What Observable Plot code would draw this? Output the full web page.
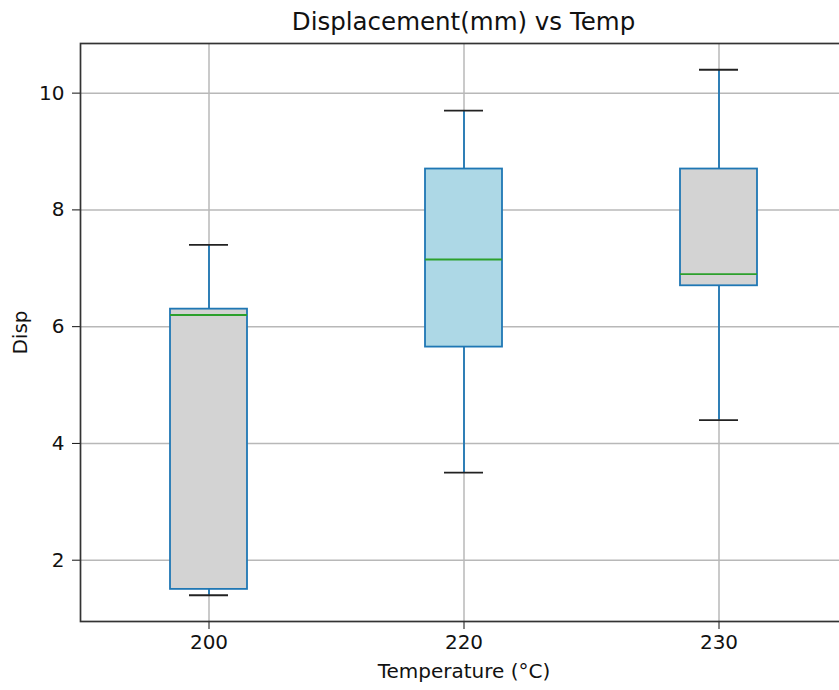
<!DOCTYPE html>
<html>
<head>
<meta charset="utf-8">
<script src="https://cdn.jsdelivr.net/npm/d3@7"></script>
<script src="https://cdn.jsdelivr.net/npm/@observablehq/plot@0.6"></script>
<style>
  html, body { margin: 0; padding: 0; background: #fff; overflow: hidden; }
  #title {
    width: 767px; padding-left: 80px; padding-top: 8px; height: 28px;
    font-family: "DejaVu Sans", sans-serif; font-size: 24.5px; color: #111;
    text-align: center; line-height: 28px;
  }
  #chart svg { max-width: none !important; }
</style>
</head>
<body>
<div id="title">Displacement(mm) vs Temp</div>
<div id="chart"></div>
<script>
// Box-plot summary per temperature group
const temps   = ["200", "220", "230"];
const mins    = [1.4, 3.5, 4.4];
const q1s     = [1.5, 5.65, 6.7];
const medians = [6.2, 7.15, 6.9];
const q3s     = [6.3, 8.7, 8.7];
const maxs    = [7.4, 9.7, 10.4];
const fills   = ["lightgray", "lightblue", "lightgray"];
const yTicks  = [2, 4, 6, 8, 10];

const rows = temps.map((t, i) => ({
  temp: t, min: mins[i], q1: q1s[i], median: medians[i], q3: q3s[i], max: maxs[i], fill: fills[i]
}));

// matplotlib-style 5% padding on the data range
const lo = d3.min(mins), hi = d3.max(maxs), pad = (hi - lo) * 0.05;

const blue = "#1f77b4";

const chart = Plot.plot({
  width: 847,
  height: 654,
  marginTop: 7,
  marginBottom: 69,
  marginLeft: 80,
  marginRight: 0,
  style: { fontFamily: "DejaVu Sans, sans-serif", fontSize: "20px", color: "#111", background: "#fff" },
  x: { type: "band", domain: temps, paddingInner: 0.7, paddingOuter: 0.35 },
  y: { domain: [lo - pad, hi + pad] },
  marks: [
    Plot.gridX({ stroke: "#b8b8b8", strokeOpacity: 1, strokeWidth: 1.5 }),
    Plot.gridY(yTicks, { stroke: "#b8b8b8", strokeOpacity: 1, strokeWidth: 1.5 }),
    // whiskers
    Plot.ruleX(rows, { x: "temp", y1: "q3", y2: "max", stroke: blue, strokeWidth: 1.8 }),
    Plot.ruleX(rows, { x: "temp", y1: "min", y2: "q1", stroke: blue, strokeWidth: 1.8 }),
    // boxes
    Plot.barY(rows, { x: "temp", y1: "q1", y2: "q3", fill: d => d.fill, stroke: blue, strokeWidth: 1.8 }),
    // caps
    Plot.tickY(rows, { x: "temp", y: "max", stroke: "#222", strokeWidth: 1.9, insetLeft: 19, insetRight: 19 }),
    Plot.tickY(rows, { x: "temp", y: "min", stroke: "#222", strokeWidth: 1.9, insetLeft: 19, insetRight: 19 }),
    // medians
    Plot.tickY(rows, { x: "temp", y: "median", stroke: "#2ca02c", strokeWidth: 1.8 }),
    Plot.axisY({ ticks: yTicks, tickSize: 8, tickPadding: 8, label: "Disp",
      labelAnchor: "center", labelOffset: 68, labelArrow: "none" }),
    Plot.axisX({ tickSize: 8, tickPadding: 5, label: "Temperature (°C)",
      labelAnchor: "center", labelOffset: 56, labelArrow: "none" }),
    Plot.frame({ stroke: "#333", strokeWidth: 1.7 })
  ]
});
document.getElementById("chart").append(chart);
</script>
</body>
</html>
